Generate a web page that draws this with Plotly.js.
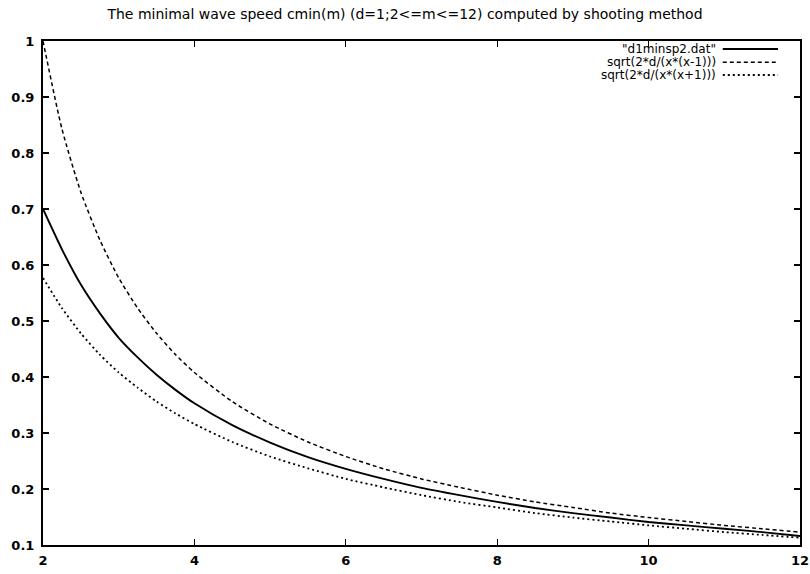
<!DOCTYPE html>
<html>
<head>
<meta charset="utf-8">
<script src="https://cdn.plot.ly/plotly-3.0.1.min.js"></script>
<style>html,body{margin:0;padding:0;background:#fff}#chart{width:810px;height:574px}</style>
</head>
<body>
<div id="chart"></div>
<script>
const titleText = 'The minimal wave speed cmin(m) (d=1;2<=m<=12) computed by shooting method';
const seriesNames = ['"d1minsp2.dat"', 'sqrt(2*d/(x*(x-1)))', 'sqrt(2*d/(x*(x+1)))'];
const xVals = [2, 2.25, 2.5, 2.75, 3, 3.25, 3.5, 3.75, 4, 4.5, 5, 5.5, 6, 6.5, 7, 7.5, 8, 8.5, 9, 9.5, 10, 10.5, 11, 11.5, 12];
const dataCurve = [0.700, 0.628, 0.565, 0.514, 0.470, 0.435, 0.404, 0.377, 0.353, 0.314, 0.283, 0.257, 0.236, 0.218, 0.202, 0.189, 0.177, 0.166, 0.157, 0.149, 0.141, 0.135, 0.129, 0.123, 0.116];
const upperCurve = [1.000, 0.843, 0.730, 0.645, 0.577, 0.523, 0.478, 0.440, 0.408, 0.356, 0.316, 0.284, 0.258, 0.236, 0.218, 0.203, 0.189, 0.177, 0.167, 0.157, 0.149, 0.142, 0.135, 0.129, 0.123];
const lowerCurve = [0.577, 0.523, 0.478, 0.440, 0.408, 0.381, 0.356, 0.335, 0.316, 0.284, 0.258, 0.237, 0.218, 0.203, 0.189, 0.177, 0.167, 0.157, 0.149, 0.142, 0.135, 0.129, 0.123, 0.118, 0.113];
const xTicks = [2, 4, 6, 8, 10, 12];
const yTicks = [0.1, 0.2, 0.3, 0.4, 0.5, 0.6, 0.7, 0.8, 0.9, 1];
const yTickText = ['0.1', '0.2', '0.3', '0.4', '0.5', '0.6', '0.7', '0.8', '0.9', '1'];

const dashes = ['solid', '4px,3px', '2px,3px'];
const widths = [1.9, 1.5, 1.8];
const ys = [dataCurve, upperCurve, lowerCurve];

const traces = ys.map((y, i) => ({
  x: xVals, y: y, type: 'scatter', mode: 'lines', name: seriesNames[i],
  line: {color: '#000', width: widths[i], dash: dashes[i], shape: 'spline', smoothing: 0.6},
  showlegend: false, hoverinfo: 'skip'
}));

const legendRowY = [0.984, 0.958, 0.9325];
const annotations = seriesNames.map((n, i) => ({
  xref: 'paper', yref: 'paper', x: 0.890, y: legendRowY[i], xanchor: 'right', yanchor: 'middle',
  text: n, showarrow: false, borderpad: 0,
  font: {family: 'DejaVu Sans, sans-serif', size: 12, color: '#000'}
}));
const shapes = seriesNames.map((n, i) => ({
  type: 'line', xref: 'paper', yref: 'paper', x0: 0.898, x1: 0.971, y0: legendRowY[i], y1: legendRowY[i],
  line: {color: '#000', width: widths[i], dash: dashes[i]}
}));

const axisCommon = {
  showgrid: false, zeroline: false, showline: true, linecolor: '#000', linewidth: 2,
  mirror: 'ticks', ticks: 'inside', ticklen: 6, tickwidth: 1.3, tickcolor: '#000',
  ticklabeloverflow: 'allow',
  tickfont: {family: 'DejaVu Sans, sans-serif', size: 13, color: '#000', weight: 'bold'}
};

const layout = {
  width: 810, height: 574,
  margin: {l: 43, r: 10, t: 41, b: 29},
  paper_bgcolor: '#fff', plot_bgcolor: '#fff',
  title: {text: titleText, x: 0.5, xanchor: 'center', y: 0.975, yanchor: 'middle',
    font: {family: 'DejaVu Sans, sans-serif', size: 14, color: '#000'}},
  xaxis: Object.assign({}, axisCommon, {range: [2, 12], tickvals: xTicks, ticktext: xTicks.map(String), ticklabelstandoff: 2}),
  yaxis: Object.assign({}, axisCommon, {range: [0.1, 1], tickvals: yTicks, ticktext: yTickText, ticklabelstandoff: 4}),
  annotations: annotations, shapes: shapes, showlegend: false
};

Plotly.newPlot('chart', traces, layout, {staticPlot: true, displayModeBar: false});
</script>
</body>
</html>
